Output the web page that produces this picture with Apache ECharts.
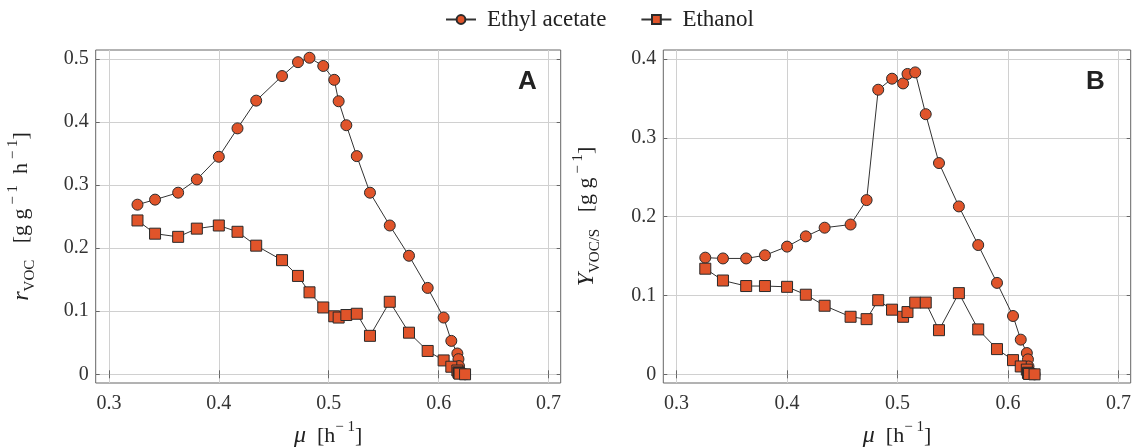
<!DOCTYPE html>
<html>
<head>
<meta charset="utf-8">
<script src="https://cdn.jsdelivr.net/npm/echarts@6/dist/echarts.min.js"></script>
<style>
  html, body { margin: 0; padding: 0; background: #fff; }
  #chart { width: 1132px; height: 448px; }
</style>
</head>
<body>
<div id="chart"></div>
<script>
// specific growth rate mu [1/h], shared by both panels
const mu = [0.326, 0.342, 0.363, 0.380, 0.400, 0.417, 0.434, 0.4575, 0.472, 0.4825, 0.495, 0.505, 0.509,
  0.516, 0.5255, 0.5375, 0.5555, 0.573, 0.590, 0.6045, 0.6115, 0.617, 0.618, 0.6185, 0.619, 0.624];

// panel A: r_VOC [g/g/h]
const rEthylAcetate = [0.269, 0.277, 0.288, 0.309, 0.345, 0.390, 0.434, 0.473, 0.495, 0.502, 0.489, 0.467, 0.433,
  0.395, 0.346, 0.288, 0.236, 0.188, 0.137, 0.090, 0.053, 0.033, 0.024, 0.013, 0.005, 0.000];
const rEthanol = [0.244, 0.223, 0.218, 0.231, 0.236, 0.226, 0.204, 0.181, 0.156, 0.130, 0.106, 0.092, 0.090,
  0.094, 0.096, 0.061, 0.115, 0.066, 0.037, 0.022, 0.012, 0.006, 0.003, 0.002, 0.001, 0.000];

// panel B: Y_VOC/S [g/g]
const yEthylAcetate = [0.148, 0.147, 0.147, 0.151, 0.162, 0.175, 0.186, 0.190, 0.221, 0.361, 0.375, 0.369, 0.381,
  0.383, 0.330, 0.268, 0.213, 0.164, 0.116, 0.074, 0.044, 0.027, 0.019, 0.010, 0.004, 0.000];
const yEthanol = [0.134, 0.119, 0.112, 0.112, 0.111, 0.101, 0.087, 0.073, 0.070, 0.094, 0.082, 0.073, 0.079,
  0.091, 0.091, 0.056, 0.103, 0.057, 0.032, 0.018, 0.010, 0.006, 0.002, 0.001, 0.0005, 0.000];

const xTicks = [0.3, 0.4, 0.5, 0.6, 0.7];
const yTicksA = [0, 0.1, 0.2, 0.3, 0.4, 0.5];
const yTicksB = [0, 0.1, 0.2, 0.3, 0.4];

const chart = echarts.init(document.getElementById('chart'));

const serif = 'Liberation Serif';
const fill = '#E0542A';
const tickFmt = (v) => String(+Number(v).toFixed(1));

const rich = {
  i: { fontFamily: serif, fontStyle: 'italic', fontSize: 24, color: '#222', lineHeight: 32 },
  n: { fontFamily: serif, fontSize: 22, color: '#222', lineHeight: 32 },
  sub: { fontFamily: serif, fontSize: 15, color: '#222', lineHeight: 15, verticalAlign: 'bottom' },
  sup: { fontFamily: serif, fontSize: 15, color: '#222', lineHeight: 15, verticalAlign: 'top' },
};

function xAxes(gridIndex) {
  return [
    {
      type: 'value', gridIndex, min: 0.288, max: 0.711, position: 'bottom',
      name: '{i|μ}{n|  [h}{sup|− 1}{n|]}', nameLocation: 'middle', nameGap: 37,
      nameTextStyle: { rich },
      axisLine: { show: false },
      axisTick: { show: true, inside: true, length: 4, customValues: xTicks, lineStyle: { color: '#666' } },
      axisLabel: { customValues: xTicks, formatter: tickFmt, fontFamily: serif, fontSize: 20, color: '#333', margin: 11 },
      splitLine: { show: true, lineStyle: { color: '#d0d0d0', width: 1 } },
    },
    {
      type: 'value', gridIndex, min: 0.288, max: 0.711, position: 'top',
      axisLine: { show: false },
      axisTick: { show: true, inside: true, length: 4, customValues: xTicks, lineStyle: { color: '#666' } },
      axisLabel: { show: false },
      splitLine: { show: false },
    },
  ];
}

function yAxes(gridIndex, min, max, ticks, name, gap) {
  return [
    {
      type: 'value', gridIndex, min, max, position: 'left',
      name, nameLocation: 'middle', nameGap: gap, nameRotate: 90,
      nameTextStyle: { rich },
      axisLine: { show: false },
      axisTick: { show: true, inside: true, length: 4, customValues: ticks, lineStyle: { color: '#666' } },
      axisLabel: { customValues: ticks, formatter: tickFmt, fontFamily: serif, fontSize: 20, color: '#333', margin: 7 },
      splitLine: { show: true, lineStyle: { color: '#d0d0d0', width: 1 } },
    },
    {
      type: 'value', gridIndex, min, max, position: 'right',
      axisLine: { show: false },
      axisTick: { show: true, inside: true, length: 4, customValues: ticks, lineStyle: { color: '#666' } },
      axisLabel: { show: false },
      splitLine: { show: false },
    },
  ];
}

function pairs(ys) {
  return mu.map((x, k) => [x, ys[k]]);
}

function lineSeries(name, symbol, ys, xAxisIndex, yAxisIndex) {
  return {
    name, type: 'line', xAxisIndex, yAxisIndex,
    data: pairs(ys),
    symbol, symbolSize: 11,
    showAllSymbol: true,
    lineStyle: { color: '#333', width: 1 },
    itemStyle: { color: fill, borderColor: '#2a2a2a', borderWidth: 1 },
    emphasis: { disabled: true },
    animation: false,
  };
}

chart.setOption({
  animation: false,
  legend: {
    top: 3, left: 440,
    itemWidth: 30, itemHeight: 11, itemGap: 34,
    textStyle: { fontFamily: serif, fontSize: 23, color: '#222', padding: [0, 0, 0, 6] },
    data: ['Ethyl acetate', 'Ethanol'],
  },
  grid: [
    { left: 95.7, top: 50, width: 465, height: 333, outerBoundsMode: 'none', show: true, borderColor: '#666', borderWidth: 1, backgroundColor: 'transparent' },
    { left: 663.3, top: 50, width: 467.4, height: 333, outerBoundsMode: 'none', show: true, borderColor: '#666', borderWidth: 1, backgroundColor: 'transparent' },
  ],
  xAxis: [...xAxes(0), ...xAxes(1)],
  yAxis: [
    ...yAxes(0, -0.0138, 0.5143, yTicksA, '{i|r}{sub|VOC}{n|   [g g}{sup| − 1}{n|  h}{sup| − 1}{n|]}', 58),
    ...yAxes(1, -0.011, 0.4114, yTicksB, '{i|Y}{sub|VOC/S}{n|   [g g}{sup| − 1}{n|]}', 61),
  ],
  series: [
    lineSeries('Ethyl acetate', 'circle', rEthylAcetate, 0, 0),
    lineSeries('Ethanol', 'rect', rEthanol, 0, 0),
    lineSeries('Ethyl acetate', 'circle', yEthylAcetate, 2, 2),
    lineSeries('Ethanol', 'rect', yEthanol, 2, 2),
  ],
  graphic: [
    { type: 'text', left: 518, top: 69, style: { text: 'A', font: 'bold 26px "Liberation Sans"', fill: '#222' } },
    { type: 'text', left: 1086, top: 69, style: { text: 'B', font: 'bold 26px "Liberation Sans"', fill: '#222' } },
  ],
});
</script>
</body>
</html>
